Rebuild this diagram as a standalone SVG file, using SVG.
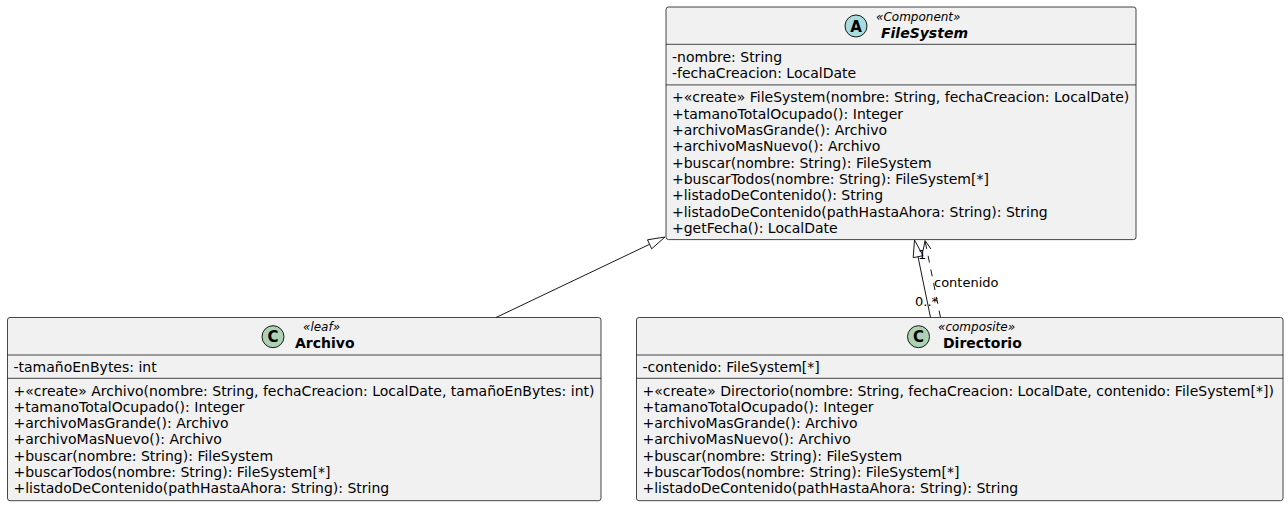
<svg xmlns="http://www.w3.org/2000/svg" width="1288" height="507" viewBox="0 0 1288 507">
<style>
.box{fill:#F1F1F1;stroke:#181818;stroke-width:0.8}
.div{stroke:#181818;stroke-width:0.8}
.t{font-family:"DejaVu Sans",sans-serif;font-size:14px;fill:#000}
.st{font-family:"DejaVu Sans",sans-serif;font-size:12px;font-style:italic;fill:#000}
.nm{font-family:"DejaVu Sans",sans-serif;font-size:14px;font-weight:bold;fill:#000}
.lbl{font-family:"DejaVu Sans",sans-serif;font-size:13px;fill:#000}
.circ{stroke:#181818;stroke-width:1}
.ic{font-family:"DejaVu Sans",sans-serif;font-size:15px;font-weight:bold;fill:#000;text-anchor:middle}
.ln{stroke:#181818;stroke-width:1;fill:none}
.hd{fill:#FFFFFF;stroke:#181818;stroke-width:1}
</style>
<rect width="1288" height="507" fill="#FFFFFF"/>
<g id="FileSystem">
<rect class="box" x="666" y="7" width="470" height="232.6" rx="2.5"/>
<line class="div" x1="666" y1="44.3" x2="1136" y2="44.3"/>
<line class="div" x1="666" y1="84.9" x2="1136" y2="84.9"/>
<circle class="circ" cx="856" cy="26" r="11" fill="#A9DCDF"/>
<text class="ic" x="856" y="31.5">A</text>
<text class="st" x="876" y="20.5">«Component»</text>
<text class="nm" x="881" y="37.7" font-style="italic">FileSystem</text>
<text class="t" x="672" y="61.8">-nombre: String</text>
<text class="t" x="672" y="78.1">-fechaCreacion: LocalDate</text>
<text class="t" x="672" y="102.4">+«create» FileSystem(nombre: String, fechaCreacion: LocalDate)</text>
<text class="t" x="672" y="118.7">+tamanoTotalOcupado(): Integer</text>
<text class="t" x="672" y="135">+archivoMasGrande(): Archivo</text>
<text class="t" x="672" y="151.3">+archivoMasNuevo(): Archivo</text>
<text class="t" x="672" y="167.6">+buscar(nombre: String): FileSystem</text>
<text class="t" x="672" y="183.9">+buscarTodos(nombre: String): FileSystem[*]</text>
<text class="t" x="672" y="200.2">+listadoDeContenido(): String</text>
<text class="t" x="672" y="216.5">+listadoDeContenido(pathHastaAhora: String): String</text>
<text class="t" x="672" y="232.8">+getFecha(): LocalDate</text>
</g>
<g id="Archivo">
<rect class="box" x="7.5" y="317.5" width="593.5" height="183.2" rx="2.5"/>
<line class="div" x1="7.5" y1="355" x2="601" y2="355"/>
<line class="div" x1="7.5" y1="378.3" x2="601" y2="378.3"/>
<circle class="circ" cx="273" cy="336.7" r="11" fill="#ADD1B2"/>
<text class="ic" x="273" y="342.2">C</text>
<text class="st" x="303" y="330.7">«leaf»</text>
<text class="nm" x="295" y="348.4">Archivo</text>
<text class="t" x="13.5" y="372.3">-tamañoEnBytes: int</text>
<text class="t" x="13.5" y="395.5">+«create» Archivo(nombre: String, fechaCreacion: LocalDate, tamañoEnBytes: int)</text>
<text class="t" x="13.5" y="411.8">+tamanoTotalOcupado(): Integer</text>
<text class="t" x="13.5" y="428.1">+archivoMasGrande(): Archivo</text>
<text class="t" x="13.5" y="444.4">+archivoMasNuevo(): Archivo</text>
<text class="t" x="13.5" y="460.7">+buscar(nombre: String): FileSystem</text>
<text class="t" x="13.5" y="477">+buscarTodos(nombre: String): FileSystem[*]</text>
<text class="t" x="13.5" y="493.3">+listadoDeContenido(pathHastaAhora: String): String</text>
</g>
<g id="Directorio">
<rect class="box" x="636.5" y="317.5" width="646.5" height="183.2" rx="2.5"/>
<line class="div" x1="636.5" y1="355" x2="1283" y2="355"/>
<line class="div" x1="636.5" y1="378.3" x2="1283" y2="378.3"/>
<circle class="circ" cx="918.5" cy="336.7" r="11" fill="#ADD1B2"/>
<text class="ic" x="918.5" y="342.2">C</text>
<text class="st" x="938" y="330.7">«composite»</text>
<text class="nm" x="943" y="348.4">Directorio</text>
<text class="t" x="642.5" y="372.3">-contenido: FileSystem[*]</text>
<text class="t" x="642.5" y="395.5">+«create» Directorio(nombre: String, fechaCreacion: LocalDate, contenido: FileSystem[*])</text>
<text class="t" x="642.5" y="411.8">+tamanoTotalOcupado(): Integer</text>
<text class="t" x="642.5" y="428.1">+archivoMasGrande(): Archivo</text>
<text class="t" x="642.5" y="444.4">+archivoMasNuevo(): Archivo</text>
<text class="t" x="642.5" y="460.7">+buscar(nombre: String): FileSystem</text>
<text class="t" x="642.5" y="477">+buscarTodos(nombre: String): FileSystem[*]</text>
<text class="t" x="642.5" y="493.3">+listadoDeContenido(pathHastaAhora: String): String</text>
</g>
<g id="connectors">
<line class="ln" x1="496" y1="317.5" x2="649.6" y2="244.3"/>
<polygon class="hd" points="665,237 651.7,248.8 647.5,239.8"/>
<line class="ln" x1="930.5" y1="317.5" x2="918" y2="256.7"/>
<polygon class="hd" points="914.5,240 923,255.7 913.2,257.7"/>
<line class="ln" x1="940.5" y1="317.5" x2="925" y2="240.5" stroke-dasharray="7,7"/>
<polyline class="ln" points="923.1,250.6 925,240.5 930.9,249"/>
<text class="lbl" x="918" y="259">1</text>
<text class="lbl" x="934" y="287">contenido</text>
<text class="lbl" x="915" y="305.5">0..*</text>
</g>
</svg>
